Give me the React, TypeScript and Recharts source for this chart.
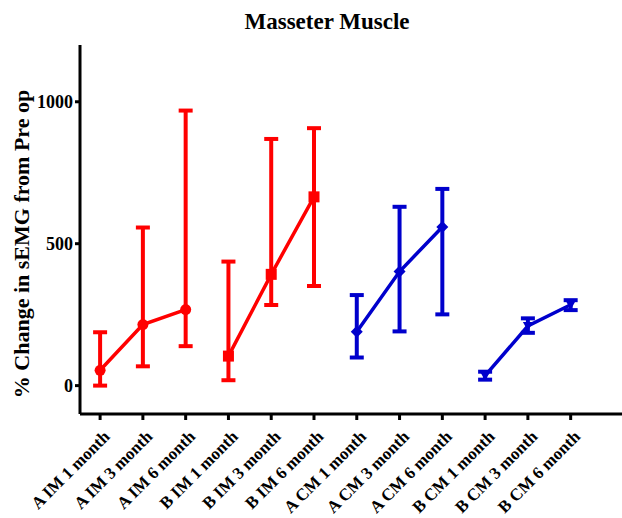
import React from 'react';
import { ComposedChart, Line, XAxis, YAxis, ErrorBar } from 'recharts';

const categories = [
  'A IM 1 month', 'A IM 3 month', 'A IM 6 month',
  'B IM 1 month', 'B IM 3 month', 'B IM 6 month',
  'A CM 1 month', 'A CM 3 month', 'A CM 6 month',
  'B CM 1 month', 'B CM 3 month', 'B CM 6 month',
];

// means and error bar ends [low, high]
const aimMean = [54, 215, 268];
const aimLow = [0, 68, 139];
const aimHigh = [188, 557, 969];

const bimMean = [104, 392, 665];
const bimLow = [19, 284, 351];
const bimHigh = [437, 869, 907];

const acmMean = [190, 402, 559];
const acmLow = [99, 191, 251];
const acmHigh = [319, 630, 693];

const bcmMean = [35, 210, 285];
const bcmLow = [21, 186, 266];
const bcmHigh = [49, 237, 301];

const yTicks = [0, 500, 1000];

const RED = '#FF0000';
const BLUE = '#0000CC';
const FONT = '"Liberation Serif", "Times New Roman", serif';

const groups = [
  { key: 'aim', start: 0, mean: aimMean, low: aimLow, high: aimHigh },
  { key: 'bim', start: 3, mean: bimMean, low: bimLow, high: bimHigh },
  { key: 'acm', start: 6, mean: acmMean, low: acmLow, high: acmHigh },
  { key: 'bcm', start: 9, mean: bcmMean, low: bcmLow, high: bcmHigh },
];

const data = categories.map((name, i) => {
  const row: any = { x: i, name };
  groups.forEach((g) => {
    const j = i - g.start;
    if (j >= 0 && j < 3) {
      row[g.key] = g.mean[j];
      row[g.key + 'Err'] = [g.mean[j] - g.low[j], g.high[j] - g.mean[j]];
    } else {
      row[g.key] = null;
      row[g.key + 'Err'] = null;
    }
  });
  return row;
});

const makeDot = (kind: string, color: string) => (props: any) => {
  const { cx, cy, index, value } = props;
  if (cx == null || cy == null || value == null) return <g key={index} />;
  if (kind === 'circle') return <circle key={index} cx={cx} cy={cy} r={5.5} fill={color} />;
  if (kind === 'square') return <rect key={index} x={cx - 5.5} y={cy - 5.5} width={11} height={11} fill={color} />;
  if (kind === 'diamond')
    return <polygon key={index} points={`${cx},${cy - 6} ${cx + 6},${cy} ${cx},${cy + 6} ${cx - 6},${cy}`} fill={color} />;
  return <polygon key={index} points={`${cx - 5},${cy - 4} ${cx + 5},${cy - 4} ${cx},${cy + 5}`} fill={color} />;
};

const XTick = (props: any) => {
  const { x, y, payload } = props;
  return (
    <g transform={`translate(${x + 7},${y + 12})`}>
      <text x={0} y={0} dy={5} textAnchor="end" transform="rotate(-45)" fontFamily={FONT} fontWeight="bold" fontSize={17} fill="#000">
        {categories[payload.value]}
      </text>
    </g>
  );
};

const series = [
  { key: 'aim', color: RED, dot: 'circle' },
  { key: 'bim', color: RED, dot: 'square' },
  { key: 'acm', color: BLUE, dot: 'diamond' },
  { key: 'bcm', color: BLUE, dot: 'triangle' },
];

export default function App() {
  return (
    <div style={{ position: 'absolute', left: 0, top: 0, width: 622, height: 518, background: '#fff' }}>
      <ComposedChart width={622} height={518} data={data} margin={{ top: 45, right: 0, bottom: 0, left: 0 }}>
        <text x={327} y={29} textAnchor="middle" fontFamily={FONT} fontWeight="bold" fontSize={23} fill="#000">
          Masseter Muscle
        </text>
        <text
          x={0}
          y={0}
          transform="translate(29,244) rotate(-90)"
          textAnchor="middle"
          fontFamily={FONT}
          fontWeight="bold"
          fontSize={22}
          fill="#000"
        >
          % Change in sEMG from Pre op
        </text>
        <XAxis
          dataKey="x"
          type="number"
          domain={[-0.47, 12.2]}
          ticks={categories.map((_, i) => i)}
          interval={0}
          height={104}
          axisLine={{ stroke: '#000', strokeWidth: 3 }}
          tickLine={{ stroke: '#000', strokeWidth: 3 }}
          tickSize={6}
          tick={<XTick />}
        />
        <YAxis
          type="number"
          domain={[-100, 1200]}
          ticks={yTicks}
          width={80}
          axisLine={{ stroke: '#000', strokeWidth: 3 }}
          tickLine={{ stroke: '#000', strokeWidth: 3 }}
          tickSize={5}
          tick={{ fontFamily: FONT, fontWeight: 'bold', fontSize: 18, fill: '#000' }}
        />
        {series.map((s) => (
          <Line
            key={s.key}
            dataKey={s.key}
            stroke={s.color}
            strokeWidth={3.5}
            dot={makeDot(s.dot, s.color)}
            activeDot={false}
            isAnimationActive={false}
            connectNulls={false}
          >
            <ErrorBar dataKey={s.key + 'Err'} direction="y" width={7} strokeWidth={4} stroke={s.color} isAnimationActive={false} />
          </Line>
        ))}
      </ComposedChart>
    </div>
  );
}
